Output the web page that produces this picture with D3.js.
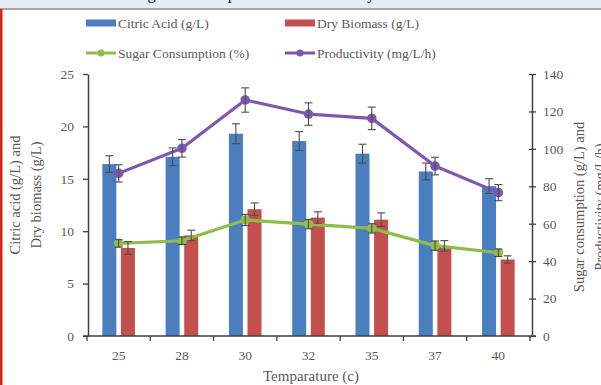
<!DOCTYPE html>
<html>
<head>
<meta charset="utf-8">
<script src="https://cdn.jsdelivr.net/npm/d3@7"></script>
<style>
  html, body { margin: 0; padding: 0; background: #fff; }
  svg { display: block; }
  text { font-family: "Liberation Serif", "DejaVu Serif", serif; }
</style>
</head>
<body>
<svg id="chart" width="601" height="385"></svg>
<script>
// Temperature categories (°C)
const temperatures = ["25", "28", "30", "32", "35", "37", "40"];

// Bar series, left axis (g/L)
const citricAcid    = [16.4, 17.1, 19.3, 18.6, 17.4, 15.7, 14.3];
const citricAcidErr = [0.8, 0.85, 0.95, 0.9, 0.9, 0.8, 0.7];
const dryBiomass    = [8.4, 9.6, 12.1, 11.3, 11.1, 8.6, 7.3];
const dryBiomassErr = [0.6, 0.5, 0.6, 0.55, 0.65, 0.5, 0.35];

// Line series, right axis
const sugarConsumption    = [49.5, 50.9, 62.0, 59.8, 57.5, 48.3, 44.5];
const sugarConsumptionErr = [2, 2, 3, 2.5, 2.5, 2.5, 2];
const productivity        = [86.9, 100.3, 126.1, 118.6, 116.3, 90.8, 76.6];
const productivityErr     = [4.6, 4.7, 6.5, 6, 6, 4.7, 4.3];

// Axis ticks
const leftTicks  = [0, 5, 10, 15, 20, 25];
const rightTicks = [0, 20, 40, 60, 80, 100, 120, 140];

const colors = {
  citric: "#4a7ebf",
  biomass: "#c4504d",
  sugar: "#8fbd4a",
  prod: "#7d58b0",
  err: "#4d4d4d",
  axis: "#404040",
  text: "#595959"
};

const svg = d3.select("#chart");

// Page frame: header band with the caption's lower edge, and the left rule
svg.append("rect").attr("x", 0).attr("y", 0).attr("width", 601).attr("height", 8)
  .attr("fill", "#e7edf3");
svg.append("text")
  .attr("x", 130).attr("y", -1.5)
  .attr("font-size", 16.5).attr("fill", "#111")
  .text("Sugar Consumption and Productivity");
svg.append("rect").attr("x", 0).attr("y", 8).attr("width", 601).attr("height", 2)
  .attr("fill", "#a6a6a6");
svg.append("rect").attr("x", 0).attr("y", 9).attr("width", 2.5).attr("height", 376)
  .attr("fill", "#d8261d");

// Plot geometry
const plot = { left: 88, right: 532, top: 74, bottom: 336 };

const x = d3.scaleBand().domain(temperatures)
  .range([plot.left - 1, plot.right - 2]).padding(0);
const yLeft = d3.scaleLinear().domain([0, 25]).range([plot.bottom, plot.top]);
const yRight = d3.scaleLinear().domain([0, 140]).range([plot.bottom, plot.top]);

const barW = 14;
const barOffset = 2.3; // half the gap between the paired bars

const g = svg.append("g");

// Bars
function drawBars(values, errs, color, side) {
  const data = temperatures.map((t, i) => ({ t, v: values[i], e: errs[i] }));
  const cx = d => x(d.t) + x.bandwidth() / 2 + (side < 0 ? -barOffset - barW / 2 : barOffset + barW / 2);
  g.selectAll(null).data(data).enter().append("rect")
    .attr("x", d => cx(d) - barW / 2)
    .attr("y", d => yLeft(d.v))
    .attr("width", barW)
    .attr("height", d => yLeft(0) - yLeft(d.v))
    .attr("fill", color);
  return { data, cx };
}

const blue = drawBars(citricAcid, citricAcidErr, colors.citric, -1);
const red = drawBars(dryBiomass, dryBiomassErr, colors.biomass, 1);

function errorBars(data, cx, yScale) {
  const cap = 4;
  const eg = g.append("g").attr("stroke", colors.err).attr("stroke-width", 1.1).attr("fill", "none");
  data.forEach(d => {
    const xc = cx(d);
    const y1 = yScale(d.v + d.e), y0 = yScale(d.v - d.e);
    eg.append("line").attr("x1", xc).attr("x2", xc).attr("y1", y1).attr("y2", y0);
    eg.append("line").attr("x1", xc - cap).attr("x2", xc + cap).attr("y1", y1).attr("y2", y1);
    eg.append("line").attr("x1", xc - cap).attr("x2", xc + cap).attr("y1", y0).attr("y2", y0);
  });
}

// Lines on the right axis
function drawLine(values, errs, color) {
  const data = temperatures.map((t, i) => ({ t, v: values[i], e: errs[i] }));
  const cx = d => x(d.t) + x.bandwidth() / 2;
  const line = d3.line().x(cx).y(d => yRight(d.v));
  g.append("path").datum(data)
    .attr("d", line)
    .attr("fill", "none")
    .attr("stroke", color)
    .attr("stroke-width", 3.2)
    .attr("stroke-linejoin", "round");
  g.selectAll(null).data(data).enter().append("circle")
    .attr("cx", cx).attr("cy", d => yRight(d.v)).attr("r", 4.8)
    .attr("fill", color);
  return { data, cx };
}

const green = drawLine(sugarConsumption, sugarConsumptionErr, colors.sugar);
const purple = drawLine(productivity, productivityErr, colors.prod);

errorBars(blue.data, blue.cx, yLeft);
errorBars(red.data, red.cx, yLeft);
errorBars(green.data, green.cx, yRight);
errorBars(purple.data, purple.cx, yRight);

// Axes
const axisStyle = sel => {
  sel.selectAll(".domain").attr("stroke", colors.axis).attr("stroke-width", 1.5);
  sel.selectAll(".tick line").attr("stroke", colors.axis).attr("stroke-width", 1.3);
  sel.selectAll(".tick text")
    .attr("fill", colors.text)
    .attr("font-family", "'Liberation Serif', serif")
    .attr("font-size", 13.5);
};

svg.append("g")
  .attr("transform", `translate(${plot.left},0)`)
  .call(d3.axisLeft(yLeft).tickValues(leftTicks).tickSize(5).tickSizeOuter(0).tickPadding(9))
  .call(axisStyle);

svg.append("g")
  .attr("transform", `translate(${plot.right},0)`)
  .call(d3.axisRight(yRight).tickValues(rightTicks).tickSize(4).tickSizeOuter(0).tickPadding(7))
  .call(axisStyle)
  .call(a => a.selectAll(".tick line").attr("x1", -3));

// Category axis: ticks sit on the band boundaries
const xAxisG = svg.append("g").attr("transform", `translate(0,${plot.bottom})`);
xAxisG.append("line")
  .attr("x1", plot.left - 5).attr("x2", plot.right + 4)
  .attr("y1", 0).attr("y2", 0)
  .attr("stroke", colors.axis).attr("stroke-width", 1.5);
const boundaries = temperatures.map(t => x(t)).concat([x(temperatures[temperatures.length - 1]) + x.bandwidth()]);
xAxisG.selectAll(null).data(boundaries).enter().append("line")
  .attr("x1", d => d).attr("x2", d => d)
  .attr("y1", 0).attr("y2", 5)
  .attr("stroke", colors.axis).attr("stroke-width", 1.3);
xAxisG.selectAll(null).data(temperatures).enter().append("text")
  .attr("x", d => x(d) + x.bandwidth() / 2)
  .attr("y", 24)
  .attr("text-anchor", "middle")
  .attr("font-size", 13.5)
  .attr("fill", colors.text)
  .text(d => d);

// Axis titles
svg.append("text")
  .attr("x", 311).attr("y", 381)
  .attr("text-anchor", "middle")
  .attr("font-size", 15).attr("fill", colors.text)
  .text("Temparature (c)");

const leftTitle = svg.append("text")
  .attr("transform", "translate(0,195) rotate(-90)")
  .attr("text-anchor", "middle")
  .attr("font-size", 14.5).attr("fill", colors.text);
leftTitle.append("tspan").attr("x", 0).attr("y", 20).text("Citric acid (g/L) and");
leftTitle.append("tspan").attr("x", 0).attr("y", 41).text("Dry biomass (g/L)");

const rightTitle = svg.append("text")
  .attr("transform", "translate(0,207) rotate(-90)")
  .attr("text-anchor", "middle")
  .attr("font-size", 14.5).attr("fill", colors.text);
rightTitle.append("tspan").attr("x", 0).attr("y", 584).text("Sugar consumption (g/L) and");
rightTitle.append("tspan").attr("x", 0).attr("y", 605).text("Productivity (mg/L/h)");

// Legend
const legendItems = [
  { label: "Citric Acid (g/L)", color: colors.citric, type: "bar", x: 86, y: 23 },
  { label: "Dry Biomass (g/L)", color: colors.biomass, type: "bar", x: 285, y: 23 },
  { label: "Sugar Consumption (%)", color: colors.sugar, type: "line", x: 86, y: 53 },
  { label: "Productivity (mg/L/h)", color: colors.prod, type: "line", x: 285, y: 53 }
];
const lg = svg.append("g");
legendItems.forEach(d => {
  if (d.type === "bar") {
    lg.append("rect").attr("x", d.x).attr("y", d.y - 3.5).attr("width", 30).attr("height", 7)
      .attr("fill", d.color);
  } else {
    lg.append("line").attr("x1", d.x).attr("x2", d.x + 30).attr("y1", d.y).attr("y2", d.y)
      .attr("stroke", d.color).attr("stroke-width", 3);
    lg.append("circle").attr("cx", d.x + 15).attr("cy", d.y).attr("r", 3.5).attr("fill", d.color);
  }
  lg.append("text").attr("x", d.x + 32).attr("y", d.y + 4.5)
    .attr("font-size", 13.5).attr("fill", colors.text)
    .text(d.label);
});
</script>
</body>
</html>
